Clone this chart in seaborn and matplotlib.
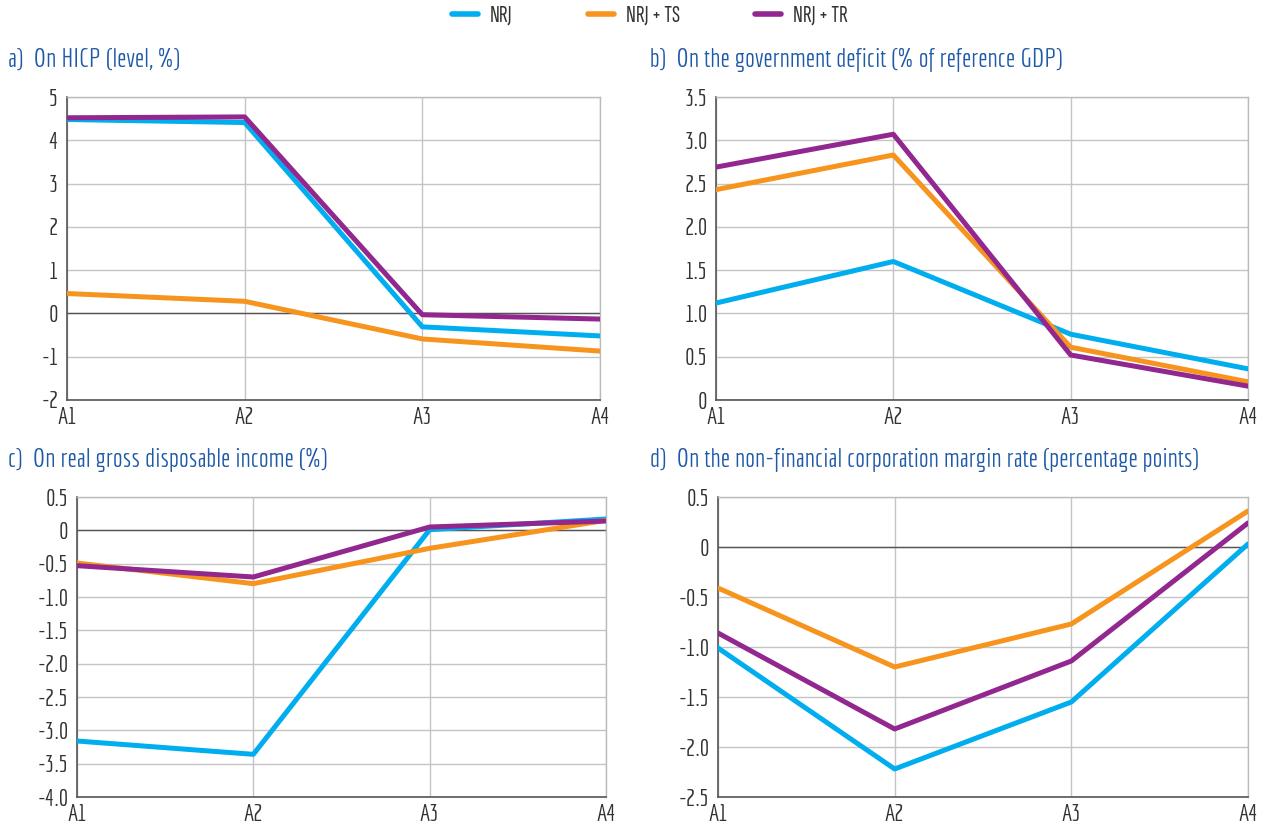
import numpy as np
import pandas as pd
import matplotlib
matplotlib.use("Agg")
import matplotlib.pyplot as plt
import seaborn as sns
from matplotlib.ticker import FuncFormatter
from matplotlib.lines import Line2D

sns.set_theme(style="white")
plt.rcParams['font.family'] = ['Economica', 'Barlow Condensed', 'DejaVu Sans']

periods = ["A1", "A2", "A3", "A4"]
series_names = ["NRJ", "NRJ + TS", "NRJ + TR"]

# Panel a) HICP
hicp_nrj = [4.48, 4.41, -0.31, -0.52]
hicp_ts = [0.46, 0.28, -0.59, -0.87]
hicp_tr = [4.52, 4.54, -0.03, -0.13]

# Panel b) government deficit
def_nrj = [1.12, 1.60, 0.76, 0.36]
def_ts = [2.43, 2.83, 0.61, 0.21]
def_tr = [2.69, 3.07, 0.52, 0.16]

# Panel c) real gross disposable income
rgdi_nrj = [-3.16, -3.36, 0.01, 0.17]
rgdi_ts = [-0.49, -0.80, -0.27, 0.15]
rgdi_tr = [-0.53, -0.70, 0.05, 0.14]

# Panel d) NFC margin rate
mr_nrj = [-1.01, -2.22, -1.55, 0.03]
mr_ts = [-0.41, -1.20, -0.77, 0.36]
mr_tr = [-0.86, -1.82, -1.14, 0.24]

titles = [
    "a)  On HICP (level, %)",
    "b)  On the government deficit (% of reference GDP)",
    "c)  On real gross disposable income (%)",
    "d)  On the non-financial corporation margin rate (percentage points)",
]

colors = {"NRJ": "#00AEEF", "NRJ + TS": "#F7941D", "NRJ + TR": "#92278F"}
title_color = "#1F5AA8"
text_color = "#333333"

panels = [
    (hicp_nrj, hicp_ts, hicp_tr, (-2, 5), np.arange(-2, 5.01, 1)),
    (def_nrj, def_ts, def_tr, (0, 3.5), np.arange(0, 3.51, 0.5)),
    (rgdi_nrj, rgdi_ts, rgdi_tr, (-4, 0.5), np.arange(-4, 0.51, 0.5)),
    (mr_nrj, mr_ts, mr_tr, (-2.5, 0.5), np.arange(-2.5, 0.51, 0.5)),
]

fig = plt.figure(figsize=(12.64, 8.30), dpi=100)
W, H = 1264, 830
boxes = [
    (67, 97, 600, 400),
    (716, 97, 1248, 400),
    (77, 497, 606, 797),
    (718, 497, 1248, 797),
]
title_pos = [(8, 60), (650, 60), (8, 460), (650, 460)]

def fmt_int(v, pos):
    return "%d" % round(v)

def fmt_dec(v, pos):
    if abs(v) < 1e-9:
        return "0"
    return "%.1f" % v

for i, (p, box, tp, title) in enumerate(zip(panels, boxes, title_pos, titles)):
    s_nrj, s_ts, s_tr, ylim, ticks = p
    x0, y0, x1, y1 = box
    ax = fig.add_axes([x0 / W, 1 - y1 / H, (x1 - x0) / W, (y1 - y0) / H])
    df = pd.DataFrame({
        "period": periods * 3,
        "x": list(range(4)) * 3,
        "value": s_nrj + s_ts + s_tr,
        "series": [series_names[0]] * 4 + [series_names[1]] * 4 + [series_names[2]] * 4,
    })
    sns.lineplot(data=df, x="x", y="value", hue="series", palette=colors,
                 hue_order=series_names, linewidth=3.6, ax=ax, legend=False,
                 solid_capstyle="round", zorder=3)
    ax.set_xlim(0, 3)
    ax.set_ylim(*ylim)
    ax.set_xticks(range(4))
    ax.set_xticklabels(periods)
    ax.set_yticks(ticks)
    ax.yaxis.set_major_formatter(FuncFormatter(fmt_int if i == 0 else fmt_dec))
    ax.grid(True, color="#C4C4C4", linewidth=1.0, zorder=0)
    ax.axhline(0, color="#555555", linewidth=1.0, zorder=1)
    ax.set_xlabel("")
    ax.set_ylabel("")
    for side in ["top", "right"]:
        ax.spines[side].set_color("#BBBBBB")
        ax.spines[side].set_linewidth(1.0)
    for side in ["left", "bottom"]:
        ax.spines[side].set_color("#555555")
        ax.spines[side].set_linewidth(1.2)
    ax.tick_params(axis="both", length=0, labelsize=17, colors=text_color)
    ax.tick_params(axis="y", pad=6)
    ax.tick_params(axis="x", pad=5)
    fig.text(tp[0] / W, 1 - tp[1] / H, title, color=title_color, fontsize=18.8,
             ha="left", va="center")

handles = [Line2D([0], [0], color=colors[n], linewidth=4, solid_capstyle="round") for n in series_names]
fig.legend(handles, series_names, loc="center", bbox_to_anchor=(0.514, 1 - 16 / H), ncol=3,
           frameon=False, handlelength=1.1, columnspacing=3.2, handletextpad=0.5,
           labelcolor=text_color,
           prop={"family": ["Sofia Sans Extra Condensed", "Barlow Condensed", "DejaVu Sans"], "size": 17})

fig.savefig("out.png", dpi=100)
